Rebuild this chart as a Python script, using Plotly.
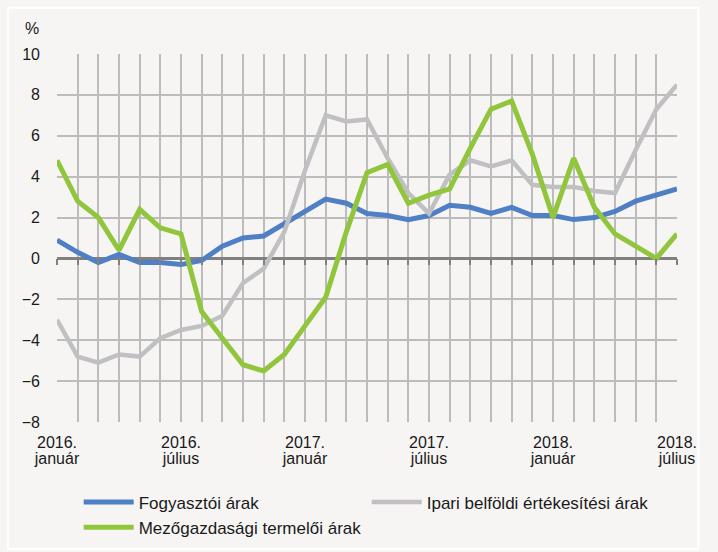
"""Árindexek alakulása 2016 január - 2018 július (éves változás, %)."""
import plotly.graph_objects as go

# havi kategóriák 2016. január - 2018. július
months = [f"{y}-{m:02d}" for y in (2016, 2017, 2018) for m in range(1, 13)][:31]
label_months = ["2016-01", "2016-07", "2017-01", "2017-07", "2018-01", "2018-07"]
year_text = ["2016.", "2016.", "2017.", "2017.", "2018.", "2018."]
month_text = ["január", "július", "január", "július", "január", "július"]

fogyasztoi = [0.9, 0.3, -0.2, 0.2, -0.2, -0.2, -0.3, -0.1, 0.6, 1.0, 1.1, 1.7,
              2.3, 2.9, 2.7, 2.2, 2.1, 1.9, 2.1, 2.6, 2.5, 2.2, 2.5, 2.1,
              2.1, 1.9, 2.0, 2.3, 2.8, 3.1, 3.4]
ipari = [-3.0, -4.8, -5.1, -4.7, -4.8, -3.9, -3.5, -3.3, -2.8, -1.2, -0.5, 1.3,
         4.3, 7.0, 6.7, 6.8, 4.9, 3.2, 2.2, 4.1, 4.8, 4.5, 4.8, 3.6,
         3.5, 3.5, 3.3, 3.2, 5.3, 7.3, 8.5]
mezogazdasagi = [4.8, 2.8, 2.0, 0.4, 2.4, 1.5, 1.2, -2.6, -3.9, -5.2, -5.5, -4.7,
                 -3.3, -1.9, 1.3, 4.2, 4.6, 2.7, 3.1, 3.4, 5.4, 7.3, 7.7, 5.1,
                 2.0, 4.9, 2.5, 1.2, 0.6, 0.0, 1.2]

BG = "#f6f5f3"
GRID = "#bcbcbc"
FONT = "Liberation Sans, Arial, sans-serif"

fig = go.Figure()
# each series on its own overlaid x axis: x2 carries the ticks on the zero line,
# x3 carries the month names under the years
series = [
    ("Fogyasztói árak", fogyasztoi, "#4f7fc4", 5, "x"),
    ("Ipari belföldi értékesítési árak", ipari, "#c0c0c2", 4.5, "x2"),
    ("Mezőgazdasági termelői árak", mezogazdasagi, "#91c63c", 5, "x3"),
]
for name, values, color, width, xax in series:
    fig.add_trace(go.Scatter(
        x=months, y=values, name=name, mode="lines", xaxis=xax,
        line={"color": color, "width": width},
    ))

tick_years = [year_text[label_months.index(m)] if m in label_months else "" for m in months]
tick_names = [month_text[label_months.index(m)] if m in label_months else "" for m in months]

fig.update_layout(
    width=718, height=552,
    paper_bgcolor=BG, plot_bgcolor=BG,
    margin={"l": 57, "r": 40.5, "t": 53.5, "b": 130, "autoexpand": False},
    font={"family": FONT, "size": 16, "color": "#1a1a1a"},
    showlegend=True,
    legend={
        "orientation": "h", "x": 0.035, "y": -0.17,
        "xanchor": "left", "yanchor": "top",
        "entrywidth": 223, "entrywidthmode": "pixels",
        "itemwidth": 50,
        "font": {"size": 17}, "bgcolor": "rgba(0,0,0,0)",
        "tracegroupgap": 0,
    },
    xaxis={
        "type": "category", "categoryarray": months, "range": [0, 30],
        "tickmode": "array", "tickvals": months, "ticktext": tick_years,
        "showgrid": True, "gridcolor": GRID, "gridwidth": 1.5,
        "ticks": "", "showline": False, "zeroline": False,
        "tickfont": {"size": 16}, "ticklabelstandoff": 9,
    },
    xaxis2={
        "type": "category", "categoryarray": months, "range": [0, 30],
        "overlaying": "x", "anchor": "free", "position": 8 / 18,
        "tickmode": "array", "tickvals": months, "showticklabels": False,
        "ticks": "outside", "ticklen": 6, "tickwidth": 2, "tickcolor": "#808080",
        "showline": False, "showgrid": False, "zeroline": False,
    },
    xaxis3={
        "type": "category", "categoryarray": months, "range": [0, 30],
        "overlaying": "x", "anchor": "free", "position": 0,
        "tickmode": "array", "tickvals": months, "ticktext": tick_names,
        "ticks": "", "showline": False, "showgrid": False, "zeroline": False,
        "tickfont": {"size": 16}, "ticklabelstandoff": 25,
    },
    yaxis={
        "range": [-8, 10], "dtick": 2, "tickformat": "d",
        "showgrid": True, "gridcolor": GRID, "gridwidth": 1.5,
        "zeroline": True, "zerolinecolor": "#808080", "zerolinewidth": 3,
        "showline": False, "ticks": "",
        "ticklabelstandoff": 16,
    },
    annotations=[{
        "text": "%", "xref": "paper", "yref": "paper",
        "x": -0.04, "y": 1.069, "xanchor": "center", "yanchor": "middle",
        "showarrow": False, "font": {"size": 16},
    }],
    shapes=[{
        "type": "rect", "xref": "paper", "yref": "paper",
        "x0": -0.079, "x1": 1.0345, "y0": -0.345, "y1": 1.126,
        "line": {"color": "white", "width": 2}, "layer": "above",
    }],
)

# the page's default 8px body margin would shift the figure
fig.write_html(
    "out.html",
    config={"displayModeBar": False},
    post_script="document.body.style.margin = '0';",
)
